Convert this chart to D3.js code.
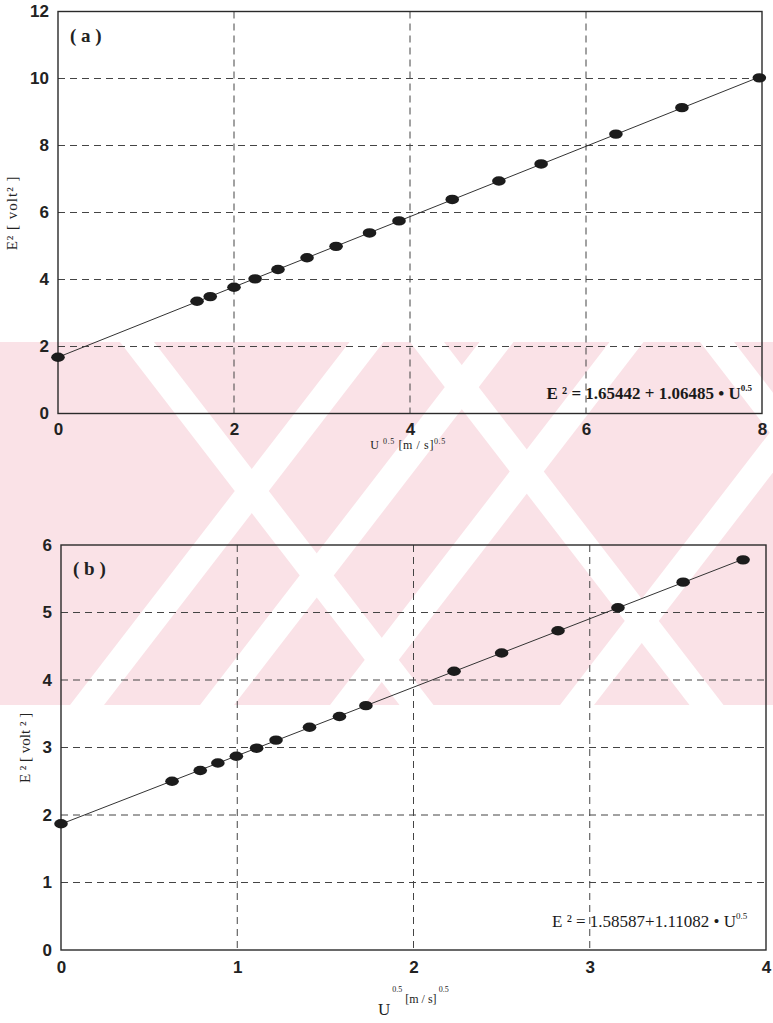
<!DOCTYPE html>
<html>
<head>
<meta charset="utf-8">
<script src="https://cdn.jsdelivr.net/npm/d3@7"></script>
<style>
  body { margin: 0; background: #fff; }
  svg { display: block; }
</style>
</head>
<body>
<svg id="chart"></svg>
<script>
const width = 773;
const height = 1023;

// panel (a) : E^2 vs U^0.5
const uA = [0, 1.58, 1.73, 2.0, 2.24, 2.5, 2.83, 3.16, 3.54, 3.875, 4.48, 5.01, 5.49, 6.34, 7.09, 7.97];
const eA = [1.68, 3.35, 3.49, 3.77, 4.02, 4.30, 4.65, 4.99, 5.39, 5.75, 6.39, 6.94, 7.45, 8.34, 9.13, 10.02];
const xTicksA = [0, 2, 4, 6, 8];
const yTicksA = [0, 2, 4, 6, 8, 10, 12];

// panel (b)
const uB = [0, 0.63, 0.79, 0.89, 0.995, 1.11, 1.22, 1.41, 1.58, 1.73, 2.23, 2.50, 2.82, 3.16, 3.53, 3.87];
const eB = [1.87, 2.50, 2.66, 2.77, 2.87, 2.99, 3.11, 3.30, 3.46, 3.62, 4.13, 4.40, 4.73, 5.07, 5.45, 5.78];
const xTicksB = [0, 1, 2, 3, 4];
const yTicksB = [0, 1, 2, 3, 4, 5, 6];

const svg = d3.select("#chart")
  .attr("width", width)
  .attr("height", height)
  .attr("viewBox", [0, 0, width, height]);

// ---- background watermark (pale pink band with white diagonal strokes) ----
const wm = svg.append("g");
const bandTop = 342, bandBot = 705, slope = 0.77;
const bandH = bandBot - bandTop;
wm.append("rect")
  .attr("x", 0).attr("y", bandTop)
  .attr("width", width).attr("height", bandH)
  .attr("fill", "#fae2e7");
// "\" strokes given by x at band top, "/" strokes by x at band bottom
const backStrokes = [120, 410, 700];
const fwdStrokes = [70, 200, 330, 560];
wm.selectAll("path.bk").data(backStrokes).join("path")
  .attr("fill", "#fff")
  .attr("d", x0 => `M${x0},${bandTop}L${x0 + 34},${bandTop}L${x0 + 34 + bandH * slope},${bandBot}L${x0 + bandH * slope},${bandBot}Z`);
wm.selectAll("path.fw").data(fwdStrokes).join("path")
  .attr("fill", "#fff")
  .attr("d", x0 => `M${x0},${bandBot}L${x0 + 34},${bandBot}L${x0 + 34 + bandH * slope},${bandTop}L${x0 + bandH * slope},${bandTop}Z`);

function fit(xs, ys) {
  const mx = d3.mean(xs), my = d3.mean(ys);
  const b = d3.sum(xs, (x, i) => (x - mx) * (ys[i] - my)) / d3.sum(xs, x => (x - mx) ** 2);
  return { a: my - b * mx, b };
}

function panel(cfg) {
  const x = d3.scaleLinear().domain(cfg.xDomain).range([cfg.left, cfg.right]);
  const y = d3.scaleLinear().domain(cfg.yDomain).range([cfg.bottom, cfg.top]);
  const g = svg.append("g");

  // grid
  g.append("g").selectAll("line")
    .data(cfg.xTicks.slice(1, -1)).join("line")
    .attr("x1", d => x(d)).attr("x2", d => x(d))
    .attr("y1", cfg.top).attr("y2", cfg.bottom)
    .attr("stroke", "#444").attr("stroke-width", 1)
    .attr("stroke-dasharray", "7,5");
  g.append("g").selectAll("line")
    .data(cfg.yTicks.slice(1, -1)).join("line")
    .attr("y1", d => y(d)).attr("y2", d => y(d))
    .attr("x1", cfg.left).attr("x2", cfg.right)
    .attr("stroke", "#444").attr("stroke-width", 1)
    .attr("stroke-dasharray", "7,5");

  // frame
  g.append("rect")
    .attr("x", cfg.left).attr("y", cfg.top)
    .attr("width", cfg.right - cfg.left).attr("height", cfg.bottom - cfg.top)
    .attr("fill", "none").attr("stroke", "#2a2a2a").attr("stroke-width", 1.4);

  // axes (labels only)
  g.append("g")
    .attr("transform", `translate(${cfg.left},0)`)
    .call(d3.axisLeft(y).tickValues(cfg.yTicks).tickSize(0).tickPadding(9).tickFormat(d3.format("d")));
  g.append("g")
    .attr("transform", `translate(0,${cfg.bottom})`)
    .call(d3.axisBottom(x).tickValues(cfg.xTicks).tickSize(0).tickPadding(cfg.xPad).tickFormat(d3.format("d")));
  g.selectAll(".domain").remove();
  g.selectAll(".tick text")
    .style("font-family", "'Liberation Sans', Arial, sans-serif")
    .style("font-weight", "bold")
    .style("font-size", "17px")
    .attr("fill", "#222");

  // fitted line
  const f = fit(cfg.u, cfg.e);
  const xr = [0, d3.max(cfg.u)];
  g.append("path")
    .attr("fill", "none").attr("stroke", "#333").attr("stroke-width", 1)
    .attr("d", d3.line()(xr.map(v => [x(v), y(f.a + f.b * v)])));

  // points
  g.append("g").selectAll("ellipse")
    .data(d3.zip(cfg.u, cfg.e)).join("ellipse")
    .attr("cx", d => x(d[0])).attr("cy", d => y(d[1]))
    .attr("rx", 6.8).attr("ry", 4.7)
    .attr("fill", "#1c1c1c");

  // panel tag
  g.append("text")
    .attr("x", cfg.left + 12).attr("y", cfg.top + 30)
    .style("font-family", "'Liberation Serif', 'Times New Roman', serif")
    .style("font-weight", "bold").style("font-size", "19px")
    .attr("fill", "#222")
    .text(cfg.tag);

  return { g, x, y };
}

// ---------- panel (a) ----------
const pa = panel({
  u: uA, e: eA, xTicks: xTicksA, yTicks: yTicksA,
  xDomain: [0, 8], yDomain: [0, 12],
  left: 58, right: 762, top: 11.5, bottom: 413.5, xPad: 9, tag: "( a )"
});

pa.g.append("text")
  .attr("transform", "translate(17,213) rotate(-90)")
  .attr("text-anchor", "middle")
  .style("font-family", "'Liberation Serif', serif").style("font-size", "15px")
  .style("letter-spacing", "1px")
  .attr("fill", "#222")
  .text("E² [ volt² ]");

const xlA = pa.g.append("text")
  .attr("x", 408).attr("y", 449)
  .attr("text-anchor", "middle")
  .style("font-family", "'Liberation Serif', serif").style("font-size", "12px")
  .style("letter-spacing", "0.6px")
  .attr("fill", "#222");
xlA.append("tspan").text("U ");
xlA.append("tspan").attr("dy", -5).style("font-size", "8px").text("0.5");
xlA.append("tspan").attr("dy", 5).text(" [m / s]");
xlA.append("tspan").attr("dy", -5).style("font-size", "8px").text("0.5");

const eqA = pa.g.append("text")
  .attr("x", 752).attr("y", 399)
  .attr("text-anchor", "end")
  .style("font-family", "'Liberation Serif', serif").style("font-weight", "bold").style("font-size", "17px")
  .attr("fill", "#1a1a1a");
eqA.append("tspan").text("E ² = 1.65442 + 1.06485 • U");
eqA.append("tspan").attr("dy", -8).style("font-size", "9px").text("0.5");

// ---------- panel (b) ----------
const pb = panel({
  u: uB, e: eB, xTicks: xTicksB, yTicks: yTicksB,
  xDomain: [0, 4], yDomain: [0, 6],
  left: 61, right: 766, top: 545, bottom: 950, xPad: 11, tag: "( b )"
});

pb.g.append("text")
  .attr("transform", "translate(30,748) rotate(-90)")
  .attr("text-anchor", "middle")
  .style("font-family", "'Liberation Serif', serif").style("font-size", "15px")
  .attr("fill", "#222")
  .text("E ² [ volt ² ]");

const xlB = pb.g.append("text")
  .attr("x", 378).attr("y", 1015)
  .style("font-family", "'Liberation Serif', serif").style("font-size", "17px")
  .attr("fill", "#222");
xlB.append("tspan").text("U");
xlB.append("tspan").attr("dy", -23).style("font-size", "8px").text(" 0.5");
xlB.append("tspan").attr("dy", 11).style("font-size", "12px").text(" [m / s]");
xlB.append("tspan").attr("dy", -11).style("font-size", "8px").text("  0.5");

const eqB = pb.g.append("text")
  .attr("x", 552).attr("y", 927)
  .style("font-family", "'Liberation Serif', serif").style("font-size", "17px")
  .attr("fill", "#1a1a1a");
eqB.append("tspan").text("E ² = 1.58587+1.11082 • U");
eqB.append("tspan").attr("dy", -8).style("font-size", "9px").text("0.5");
</script>
</body>
</html>
